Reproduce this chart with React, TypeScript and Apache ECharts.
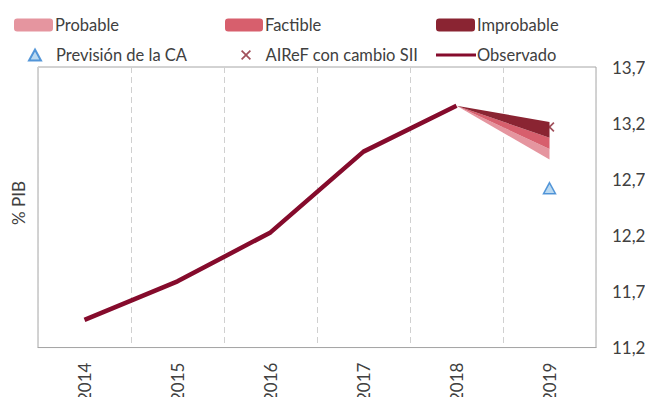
import React, { useEffect, useRef } from "react";
import * as echarts from "echarts";

const years = ["2014", "2015", "2016", "2017", "2018", "2019"];
const observado = [11.446, 11.79, 12.226, 12.946, 13.355, "-"];
const fanBase = ["-", "-", "-", "-", 13.355, 12.875];
const probable = ["-", "-", "-", "-", 0, 0.095];
const factible = ["-", "-", "-", "-", 0, 0.1];
const improbable = ["-", "-", "-", "-", 0, 0.14];
const previsionCA = ["-", "-", "-", "-", "-", 12.62];
const airef = ["-", "-", "-", "-", "-", 13.165];
const yTicks = { min: 11.2, max: 13.7, interval: 0.5 };

const FONT = "Lato";
const TXT = "#404040";
const C_PROB = "#e5959f";
const C_FACT = "#d75f6d";
const C_IMPR = "#8a2432";
const C_OBS = "#850b2c";

export default function App() {
  const ref = useRef<HTMLDivElement>(null);
  useEffect(() => {
    const chart = echarts.init(ref.current!, undefined, { renderer: "svg" });
    const mkLegend = (
      name: string,
      left: number,
      top: number,
      itemWidth: number,
      itemHeight: number,
      textPad: number,
      extra: any = {}
    ) => ({
      data: [name],
      left,
      top,
      itemWidth,
      itemHeight,
      itemGap: 0,
      padding: 0,
      selectedMode: false,
      textStyle: {
        fontFamily: FONT,
        fontSize: 16.5,
        color: TXT,
        lineHeight: 18,
        padding: [0, 0, 0, textPad],
      },
      ...extra,
    });
    chart.setOption({
      animation: false,
      textStyle: { fontFamily: FONT },
      legend: [
        mkLegend("Probable", 14, 16, 39, 13, -3, { icon: "roundRect" }),
        mkLegend("Factible", 225, 16, 38, 13, -3, { icon: "roundRect" }),
        mkLegend("Improbable", 436, 16, 39, 13, -3, { icon: "roundRect" }),
        mkLegend("Previsión de la CA", 28, 46, 12, 11, 10, { icon: "triangle" }),
        mkLegend("AIReF con cambio SII", 241, 46, 11, 10, 9),
        mkLegend("Observado", 436, 46, 40, 3, -4, { icon: "rect" }),
      ],
      grid: {
        left: 38,
        right: 57,
        top: 67,
        bottom: 53,
        show: true,
        borderColor: "#a6a6a6",
        borderWidth: 1,
        containLabel: false,
      },
      xAxis: {
        type: "category",
        data: years,
        boundaryGap: true,
        axisLine: { show: true, lineStyle: { color: "#a6a6a6" } },
        axisTick: { show: false },
        axisLabel: {
          rotate: 90,
          margin: 15,
          fontFamily: FONT,
          fontSize: 17,
          color: TXT,
          interval: 0,
        },
        splitLine: {
          show: true,
          interval: 0,
          lineStyle: { color: "#d0d0d0", type: [6, 4], width: 1 },
        },
      },
      yAxis: {
        type: "value",
        position: "right",
        min: yTicks.min,
        max: yTicks.max,
        interval: yTicks.interval,
        axisLine: { show: false },
        axisTick: { show: false },
        splitLine: { show: false },
        axisLabel: {
          margin: 16,
          fontFamily: FONT,
          fontSize: 17,
          color: TXT,
          formatter: (v: number) => v.toFixed(1).replace(".", ","),
        },
      },
      graphic: [
        {
          type: "text",
          x: 18,
          y: 203,
          rotation: Math.PI / 2,
          style: {
            text: "% PIB",
            fontFamily: FONT,
            fontSize: 17,
            fill: TXT,
            align: "center",
            verticalAlign: "middle",
          },
        },
      ],
      series: [
        {
          name: "base",
          type: "line",
          stack: "fan",
          data: fanBase,
          symbol: "none",
          lineStyle: { width: 0 },
          areaStyle: { opacity: 0 },
          silent: true,
        },
        {
          name: "Probable",
          type: "line",
          stack: "fan",
          data: probable,
          symbol: "none",
          lineStyle: { width: 0 },
          itemStyle: { color: C_PROB },
          areaStyle: { color: C_PROB, opacity: 1 },
        },
        {
          name: "Factible",
          type: "line",
          stack: "fan",
          data: factible,
          symbol: "none",
          lineStyle: { width: 0 },
          itemStyle: { color: C_FACT },
          areaStyle: { color: C_FACT, opacity: 1 },
        },
        {
          name: "Improbable",
          type: "line",
          stack: "fan",
          data: improbable,
          symbol: "none",
          lineStyle: { width: 0 },
          itemStyle: { color: C_IMPR },
          areaStyle: { color: C_IMPR, opacity: 1 },
        },
        {
          name: "Observado",
          type: "line",
          data: observado,
          symbol: "none",
          itemStyle: { color: C_OBS },
          lineStyle: { color: C_OBS, width: 4.5 },
          z: 5,
        },
        {
          name: "Previsión de la CA",
          type: "scatter",
          data: previsionCA,
          symbol: "triangle",
          symbolSize: [12, 11],
          itemStyle: { color: "#a9d0ee", borderColor: "#2f7fcf", borderWidth: 1.5 },
          z: 6,
        },
        {
          name: "AIReF con cambio SII",
          type: "scatter",
          data: airef,
          symbol:
            "path://M0,1.2L1.2,0L5,3.8L8.8,0L10,1.2L6.2,5L10,8.8L8.8,10L5,6.2L1.2,10L0,8.8L3.8,5Z",
          symbolSize: 10,
          itemStyle: { color: "#8a2432" },
          z: 6,
        },
      ],
    });
    return () => chart.dispose();
  }, []);
  return <div ref={ref} style={{ width: 653, height: 405, margin: -8 }} />;
}
